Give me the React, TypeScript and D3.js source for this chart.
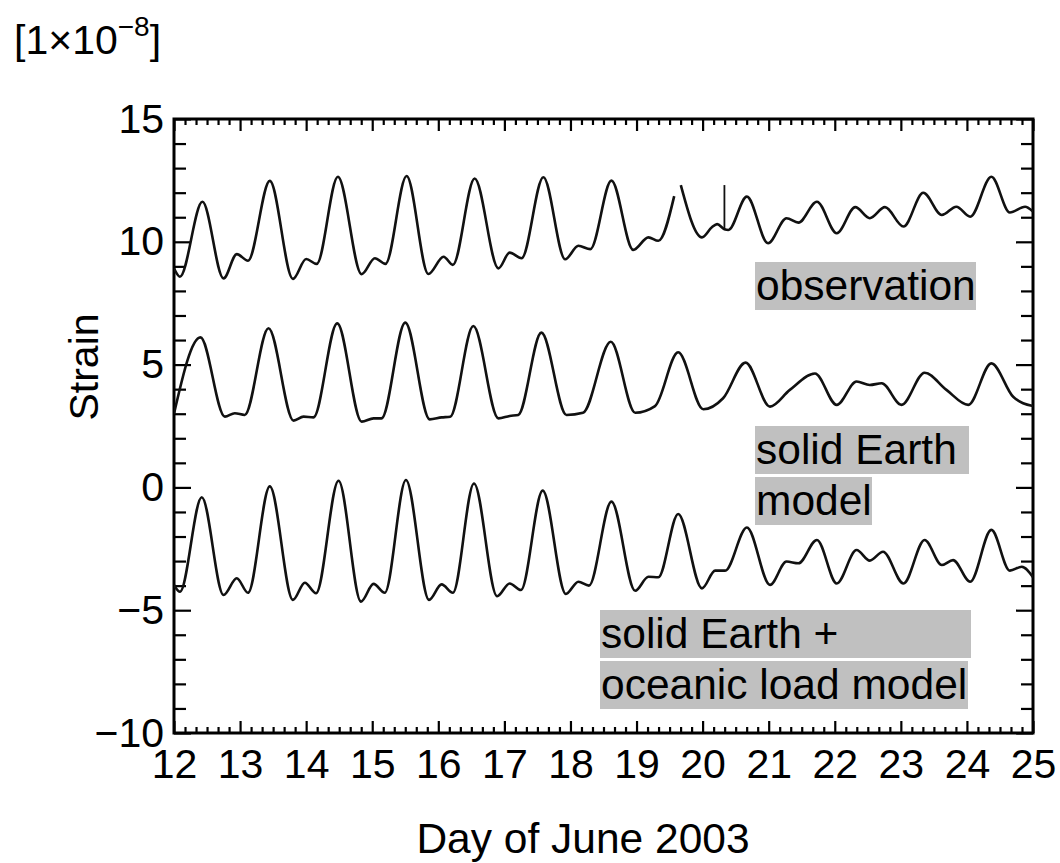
import React, { useEffect, useRef } from 'react';
import * as d3 from 'd3';

// strain [1e-8], [day of June 2003, value]
const observationA = [
  [12.0, 8.92], [12.09, 8.58], [12.43, 11.63], [12.75, 8.51], [12.95, 9.5], [13.12, 9.23],
  [13.45, 12.48], [13.8, 8.49], [14.0, 9.3], [14.16, 9.1], [14.48, 12.65], [14.84, 8.68],
  [15.04, 9.33], [15.2, 9.1], [15.52, 12.68], [15.85, 8.69], [16.08, 9.39], [16.22, 9.06],
  [16.55, 12.58], [16.91, 8.92], [17.08, 9.56], [17.26, 9.33], [17.59, 12.63], [17.92, 9.29],
  [18.12, 9.84], [18.3, 9.7], [18.62, 12.49], [18.95, 9.67], [19.18, 10.18], [19.33, 10.04],
  [19.57, 11.86],
];
const observationB = [
  [19.67, 12.31], [19.99, 10.18], [20.14, 10.59], [20.22, 10.72], [20.33, 10.51], [20.39, 10.48],
  [20.67, 11.84], [20.99, 9.94], [21.27, 10.96], [21.45, 10.78], [21.73, 11.63], [22.03, 10.35],
  [22.31, 11.41], [22.53, 10.96], [22.76, 11.41], [23.04, 10.62], [23.34, 12.0], [23.62, 11.09],
  [23.84, 11.43], [24.05, 11.02], [24.37, 12.65], [24.65, 11.19], [24.88, 11.43], [25.0, 11.23],
];
// spike in the record: [day, base, top]
const observationSpike = [20.33, 10.51, 12.31];

const solidEarth = [
  [12.0, 3.0], [12.4, 6.11], [12.77, 2.88], [12.92, 3.02], [13.07, 2.95], [13.43, 6.48],
  [13.81, 2.72], [13.96, 2.88], [14.11, 2.85], [14.47, 6.68], [14.84, 2.68], [15.02, 2.81],
  [15.14, 2.81], [15.5, 6.71], [15.87, 2.77], [16.05, 2.85], [16.18, 2.88], [16.53, 6.57],
  [16.91, 2.81], [17.08, 2.91], [17.21, 2.95], [17.56, 6.3], [17.94, 2.95], [18.19, 3.04],
  [18.61, 5.93], [18.98, 3.04], [19.28, 3.31], [19.63, 5.5], [20.01, 3.18], [20.31, 3.63],
  [20.65, 5.08], [21.02, 3.29], [21.32, 3.97], [21.7, 4.64], [22.03, 3.36], [22.33, 4.31],
  [22.53, 4.17], [22.71, 4.24], [23.01, 3.36], [23.36, 4.67], [23.69, 3.97], [24.02, 3.36],
  [24.37, 5.05], [24.7, 3.69], [25.0, 3.31],
];

const solidEarthOcean = [
  [12.0, -3.97], [12.09, -4.25], [12.42, -0.4], [12.75, -4.38], [12.95, -3.7], [13.12, -4.29],
  [13.45, 0.04], [13.8, -4.58], [13.98, -3.88], [14.15, -4.31], [14.49, 0.27], [14.83, -4.65],
  [15.02, -3.93], [15.19, -4.29], [15.51, 0.3], [15.86, -4.58], [16.05, -3.95], [16.22, -4.29],
  [16.54, 0.16], [16.89, -4.43], [17.08, -3.91], [17.25, -4.18], [17.58, -0.13], [17.93, -4.34],
  [18.12, -3.84], [18.28, -4.0], [18.62, -0.58], [18.98, -4.21], [19.18, -3.64], [19.33, -3.66],
  [19.63, -1.08], [19.99, -4.11], [20.19, -3.39], [20.34, -3.39], [20.67, -1.63], [21.02, -3.97],
  [21.27, -3.02], [21.45, -3.09], [21.73, -2.14], [22.03, -3.91], [22.33, -2.55], [22.53, -2.98],
  [22.73, -2.62], [23.04, -3.91], [23.36, -2.14], [23.62, -3.16], [23.79, -2.96], [24.05, -3.84],
  [24.37, -1.73], [24.65, -3.39], [24.83, -3.23], [25.0, -3.66],
];

const xMajorTicks = d3.range(12, 26, 1);
const yMajorTicks = [-10, -5, 0, 5, 10, 15];

const StrainChart = () => {
  const ref = useRef(null);
  const width = 1060;
  const height = 863;
  const plot = { left: 174, right: 1033, top: 119, bottom: 733 };
  const font = '"Liberation Sans", Arial, sans-serif';

  useEffect(() => {
    const svg = d3.select(ref.current);
    svg.selectAll('*').remove();

    const x = d3.scaleLinear().domain([12, 25]).range([plot.left, plot.right]);
    const y = d3.scaleLinear().domain([-10, 15]).range([plot.bottom, plot.top]);

    const xMinor = d3.range(12, 25.001, 1 / 6).filter(d => Math.abs(d - Math.round(d)) > 0.01);
    const yMinor = d3.range(-10, 15.001, 1).filter(d => d % 5 !== 0);

    // clip for the curves
    svg.append('defs').append('clipPath').attr('id', 'plotClip')
      .append('rect')
      .attr('x', plot.left).attr('y', plot.top)
      .attr('width', plot.right - plot.left).attr('height', plot.bottom - plot.top);

    const tickAxis = (g, axis) => {
      g.call(axis);
      g.select('.domain').remove();
      g.selectAll('line').attr('stroke', '#000').attr('stroke-width', 2.2);
      g.selectAll('text').attr('font-family', font).attr('font-size', 41).attr('fill', '#000');
    };

    // bottom
    svg.append('g').attr('transform', `translate(0,${plot.bottom})`)
      .call(g => tickAxis(g, d3.axisBottom(x).tickValues(xMajorTicks).tickSizeInner(-12).tickSizeOuter(0).tickPadding(16).tickFormat(d3.format('d'))));
    svg.append('g').attr('transform', `translate(0,${plot.bottom})`)
      .call(g => tickAxis(g, d3.axisBottom(x).tickValues(xMinor).tickSizeInner(-6).tickSizeOuter(0).tickFormat(() => '')));
    // top
    svg.append('g').attr('transform', `translate(0,${plot.top})`)
      .call(g => tickAxis(g, d3.axisTop(x).tickValues(xMajorTicks).tickSizeInner(-12).tickSizeOuter(0).tickFormat(() => '')));
    svg.append('g').attr('transform', `translate(0,${plot.top})`)
      .call(g => tickAxis(g, d3.axisTop(x).tickValues(xMinor).tickSizeInner(-6).tickSizeOuter(0).tickFormat(() => '')));
    // left
    svg.append('g').attr('transform', `translate(${plot.left},0)`)
      .call(g => tickAxis(g, d3.axisLeft(y).tickValues(yMajorTicks).tickSizeInner(-17).tickSizeOuter(0).tickPadding(10).tickFormat(d3.format('d'))));
    svg.append('g').attr('transform', `translate(${plot.left},0)`)
      .call(g => tickAxis(g, d3.axisLeft(y).tickValues(yMinor).tickSizeInner(-12).tickSizeOuter(0).tickFormat(() => '')));
    // right
    svg.append('g').attr('transform', `translate(${plot.right},0)`)
      .call(g => tickAxis(g, d3.axisRight(y).tickValues(yMajorTicks).tickSizeInner(-17).tickSizeOuter(0).tickFormat(() => '')));
    svg.append('g').attr('transform', `translate(${plot.right},0)`)
      .call(g => tickAxis(g, d3.axisRight(y).tickValues(yMinor).tickSizeInner(-12).tickSizeOuter(0).tickFormat(() => '')));

    // frame
    svg.append('rect')
      .attr('x', plot.left).attr('y', plot.top)
      .attr('width', plot.right - plot.left).attr('height', plot.bottom - plot.top)
      .attr('fill', 'none').attr('stroke', '#000').attr('stroke-width', 3);

    // curves
    const line = d3.line().x(d => x(d[0])).y(d => y(d[1])).curve(d3.curveMonotoneX);
    const curves = svg.append('g').attr('clip-path', 'url(#plotClip)');
    [observationA, observationB, solidEarth, solidEarthOcean].forEach(series => {
      curves.append('path')
        .attr('d', line(series))
        .attr('fill', 'none')
        .attr('stroke', '#111')
        .attr('stroke-width', 2.6)
        .attr('stroke-linejoin', 'round');
    });
    curves.append('line')
      .attr('x1', x(observationSpike[0])).attr('x2', x(observationSpike[0]))
      .attr('y1', y(observationSpike[1])).attr('y2', y(observationSpike[2]))
      .attr('stroke', '#111').attr('stroke-width', 1.8);

    // labels in grey boxes
    const labels = [
      { text: 'observation', x0: 755, y0: 262, w: 221 },
      { text: 'solid Earth ', x0: 755, y0: 426, w: 214 },
      { text: 'model', x0: 755, y0: 477, w: 117 },
      { text: 'solid Earth +', x0: 600, y0: 610, w: 371 },
      { text: 'oceanic load model', x0: 600, y0: 661, w: 368 },
    ];
    labels.forEach(l => {
      svg.append('rect')
        .attr('x', l.x0).attr('y', l.y0).attr('width', l.w).attr('height', 48)
        .attr('fill', '#c0c0c0');
      svg.append('text')
        .attr('x', l.x0 + 1).attr('y', l.y0 + 38)
        .attr('font-family', font).attr('font-size', 42.5).attr('fill', '#000')
        .attr('xml:space', 'preserve')
        .text(l.text);
    });

    // axis titles
    svg.append('text')
      .attr('transform', 'translate(98,367) rotate(-90)')
      .attr('text-anchor', 'middle')
      .attr('font-family', font).attr('font-size', 41).attr('fill', '#000')
      .text('Strain');

    svg.append('text')
      .attr('x', 583).attr('y', 853)
      .attr('text-anchor', 'middle')
      .attr('font-family', font).attr('font-size', 42.5).attr('fill', '#000')
      .text('Day of June 2003');

    // unit
    const unit = svg.append('text')
      .attr('x', 14).attr('y', 54)
      .attr('font-family', font).attr('font-size', 41).attr('fill', '#000');
    unit.append('tspan').text('[1×10');
    unit.append('tspan').attr('font-size', 28).attr('dy', -18).text('−8');
    unit.append('tspan').attr('dy', 18).text(']');
  }, []);

  return <svg ref={ref} width={width} height={height} style={{ display: 'block', background: '#fff' }} />;
};

export default function App() {
  return (
    <>
      <style>{'body{margin:0;background:#fff}'}</style>
      <StrainChart />
    </>
  );
}
